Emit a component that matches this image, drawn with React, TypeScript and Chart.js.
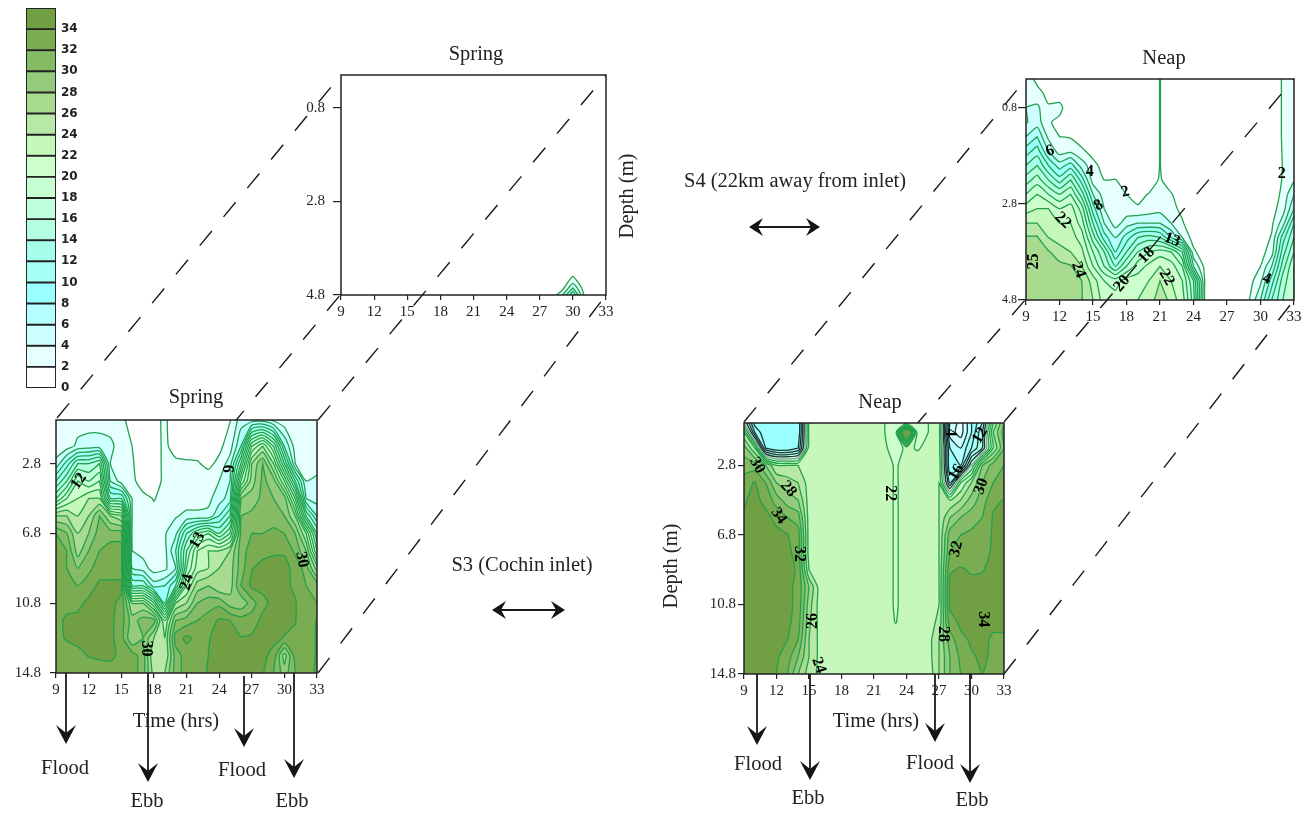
import React, { useEffect, useRef } from "react";
import { Chart, registerables } from "chart.js";

Chart.register(...registerables);

const SERIF = "'Liberation Serif', serif";
const hours = [9,10,11,12,13,14,15,16,17,18,19,20,21,22,23,24,25,26,27,28,29,30,31,32,33];
const hourTicks = [9,12,15,18,21,24,27,30,33];
const levels = [0,2,4,6,8,10,12,14,16,18,20,22,24,26,28,30,32,34];
const levelColors = ["#ffffff","#e6ffff","#ccffff","#b3ffff","#99ffff","#a6fff5","#a6ffe8","#b3ffe0","#bfffd9","#c6ffd2","#ccffcc","#c6f8bc","#b8e8a6","#a8da90","#94ca7c","#85bb64","#7aad52","#70a043"];

const depthsS3Spring = [0.3,1.8,2.8,3.8,4.8,5.8,6.8,7.8,8.8,9.8,10.8,11.8,12.8,13.8,14.8];
const salinityS3Spring = [
[3,3,3,3,3,3,2.6,1,1,1.5,2.3,1,1,1,1,1,1.9,5,5,5,3.5,2.5,2.5,2.5,2.5],
[3,3,4.5,5,5,4.5,3,2,1,1,2.5,1,1,1,1,1.5,3,8,20,24,18,8,3,2.5,2.5],
[4.5,9,14,14,16,4,3,2.2,1,1,2.5,2.5,2.3,2.2,1.5,2.5,5,14,26,30,24,14,4,3,3],
[10,14,20,18,20,6,3,2.5,1,1,2.5,3,3,3,3,4,6,20,27,30.5,29,22,12,4,4.5],
[16,20,22,24,24,12,12,4,2.6,1.9,2.6,3,3,3,3.5,5,7,28,29,30.5,30,29,20,6,5],
[26,26,24,26,30,26,24,4,3,2.5,3,3.8,4.5,4.5,4.5,8,12,30,30.5,31,31,30,26,14,8],
[32,30,26,28,31,31,31,3.5,3,3,3.8,5.5,12,16,18,14,18,30.5,32,32,32.5,32,30,24,14],
[33,32,27,30,32,33,33,4,3.2,3,3.3,8,16,22,24,24,26,31,33,33.5,33.8,33.8,31.5,28,18],
[33,32,30,31.5,33,33,33,6,5,3,3.5,6,18,23,24,26,27,31,33.9,34.5,34.5,34.5,33.5,31,25],
[33,33,32,33,34.5,34.5,34.5,12,12,7,8,12,22,27,28,26,27,32,34.5,34.5,34.5,34.5,33.6,32,31],
[33,33.5,33.5,34.5,34.5,34.5,33.5,26,26,20,10,24,26,30,31,31.5,29,28.5,31,33.5,34.5,34.5,34.2,32,32],
[33.5,34.3,34.5,34.5,34.5,34.5,33,29,31,31,22,30,31,32,33,34.3,34,33,33,34.5,34.5,34.5,34.1,32.5,34.2],
[33.5,34.2,34.5,34.5,34.5,34.5,33,28,30,26,24,33,34.5,33.5,33.9,34.5,34.5,34.1,34.3,34.5,34.5,33.9,33.6,33,34.2],
[32,33,33.5,34.1,34.5,34.5,33.5,33,31,24,24,31,33,33,34,34.5,34.5,34.5,34.5,34.5,33.4,27,33,33,34.2],
[33,33,33,33,32.5,33,33,33,31,25,26,31,33,33,34.2,34.5,34.5,34.5,34.5,34.2,32,29,32,33.5,34.2],
];

const depthsS3Neap = [0.36,0.9,1.8,2.8,3.8,4.8,5.8,6.8,7.8,8.8,9.8,10.8,11.8,12.8,13.8,14.8];
const salinityS3Neap = [
[18,9,8,8,8,8,22.5,23,23,23,23,23,23,22,21,21,21,22,23,6,3,8,12,24,30],
[24,12,8,8,8,8,22.5,23,23,23,23,23,23,22,21,44,21,22,23,5,3,8,14,26,31],
[29,24,10,8,8,10,23,23,23,23,23,23,23,22.3,21,22.5,21.8,22.5,23,8,6,10,14,24,30],
[31,31,28,24,24,24,23,23,23,23,23,23,23,23,21.7,23,23,23,23.5,8,8,18,28,31,32],
[33,34.2,32,28,27,26,23,23,23,23,23,23,23,23,21.7,23,23,23,24,12,22,26,30,32,33],
[33.8,34.5,33.5,31,29,28,23,23,23,23,23,23,23,23,21.7,23,23,23,24,24,26,29,31,33.6,34.1],
[34.2,34.5,34.5,33.5,32,31,23,23,23,23,23,23,23,23,21.7,23,23,23,24,28,30,31,32,34.2,34.5],
[34.5,34.5,34.5,34.5,34.1,33,23,23,23,23,23,23,23,23,21.7,23,23,23,24,31,32,32.5,33,34.2,34.5],
[34.5,34.5,34.5,34.5,34.5,33.2,23,23,23,23,23,23,23,23,21.7,23,23,23,24,32,32.8,33,33.5,34.2,34.5],
[34.5,34.5,34.5,34.5,34.5,33.8,24,23,23,23,23,23,23,23,21.7,23,23,23,24,33.8,34.2,33.8,33.9,34.5,34.5],
[34.5,34.5,34.5,34.5,34.5,33.5,28,23,23,23,23,23,23,23,21.7,23,23,23,24,34.5,34.5,34.5,34.5,34.5,34.5],
[34.5,34.5,34.5,34.5,34.5,33.5,27,23,23,23,23,23,23,23,21.7,23,23,23,24,34.5,34.5,34.5,34.5,34.5,34.5],
[34.5,34.5,34.5,34.5,34.5,33,26.5,23.2,23,23,23,23,23,23,21.9,23,23,23,24.5,33,34.5,34.5,34.5,34.5,34.5],
[34.5,34.5,34.5,34.5,34.1,32,26,23.4,23,23,23,23,23,23,23,23,23,23,26,31,33.5,34.3,34.5,33.7,33.7],
[34.5,34.5,34.5,34.3,33,30,26,23.4,23,23,23,23,23,23,23,23,23,23,26,30,32.5,33.8,34.3,33.7,33.7],
[34.5,34.5,34.5,34,32,28,25,23.5,23,23,23,23,23,23,23,23,23.1,22.5,26,30,32,33.5,34,33.7,33.7],
];

const depthsS4Neap = [0.2,0.5,0.8,1.1,1.4,1.7,2.0,2.3,2.6,2.9,3.2,3.5,3.8,4.1,4.4,4.8];
const salinityS4Neap = [
[3,1.5,0,0,0,0,0,0,0,0,0,0,2.1,0,0,0,0,0,0,0,0,0,0,2.3,3],
[3,2.6,1.5,1,0,0,0,0,0,0,0,0,2.1,0,0,0,0,0,0,0,0,0,0,2.3,3],
[4,4.5,2.2,2.6,0.5,0,0,0,0,0,0,0,2.1,0,0,0,0,0,0,0,0,0,0,2.3,3],
[3.8,5,2.2,1.5,0,0,0,0,0,0,0,0,2.1,0,0,0,0,0,0,0,0,0,0,2.3,3],
[6,8,3.5,2,1.8,0.5,0,0,0,0,0,0,2.1,0,0,0,0,0,0,0,0,0,0,2.3,3],
[9,11,6,3,3.5,2.5,1,0,0,0,0,0,2.1,0,0,0,0,0,0,0,0,0,0,2.2,3],
[12,14,10,7,9,5,2.8,1,0,0,0,0,2.1,0,0,0,0,0,0,0,0,0,0,2.1,3],
[15,17,14,11,14,9,3,2,2.1,1,0.5,0.5,2.3,0.5,0,0,0,0,0,0,0,0,0.3,2.2,3.8],
[18,20,18,16,18,13,6,3,2.4,2,1.5,2.1,3,2.2,0.5,0,0,0,0,0,0,0,0.8,2.5,6],
[21,22,22,20,21,17,9,4,2.5,2.8,2.2,2.8,3.2,2.6,1.5,0,0,0,0,0,0,0,1.2,3,8],
[24,24,23,22,22,19,12,6,3,5,6,6,6,4,2.2,0.5,0,0,0,0,0,0.3,1.6,5,12],
[26.2,26.2,24,23,23,21,15,9,6,9,12,13,12,8,4,1,0,0,0,0,0,0.8,2.2,9,14],
[26.5,26.5,26.2,25,24,22.5,18,14,8,12,16,18,19,18,14,2.5,0.5,0,0,0,0.3,1.2,3,11,16],
[26.5,26.5,26.5,26.5,26.2,24,20,16,12,16,19,20.5,22,21,18,6,1.5,0,0,0,0.6,2,6,13,18],
[26.5,26.5,26.5,26.5,26.2,26,23,20,19,21,21,22,24,22,20,14,2,0,0,0,1.2,3.5,9,15,18],
[26.5,26.5,26.5,26.5,26.5,26.1,24,21,21,21.5,22,22,26,23,21,15,1.8,0,0,0,2,6,12,16,18],
];

const depthsS4Spring = [0.1,3.9,4.35,4.5,4.65,4.8];
const salinityS4Spring = [
[0,0,0,0,0,0,0,0,0,0,0,0,0,0,0,0,0,0,0,0,0,0,0,0,0],
[0,0,0,0,0,0,0,0,0,0,0,0,0,0,0,0,0,0,0,0,0,0,0,0,0],
[0,0,0,0,0,0,0,0,0,0,0,0,0,0,0,0,0,0,0,0,0,1.5,0,0,0],
[0,0,0,0,0,0,0,0,0,0,0,0,0,0,0,0,0,0,0,0,0.3,3,0.3,0,0],
[0,0,0,0,0,0,0,0,0,0,0,0,0,0,0,0,0,0,0,0,1,6,1,0,0],
[0,0,0,0,0,0,0,0,0,0,0,0,0,0,0,0,0,0,0,0.5,3.5,10,2,0,0],
];

// contour labels: [text, hour, depth, rotation in degrees]
const labelsS3Spring: any[] = [["12",11.1,3.8,-55],["6",24.7,3.1,90],["13",22,7.2,-60],["24",21.05,9.6,-75],["30",17.3,13.4,90],["30",31.6,8.3,80]];
const labelsS3Neap: any[] = [["30",10.2,2.8,60],["28",13.1,4.15,50],["34",12.2,5.7,55],["32",14.1,7.9,90],["26",15.4,11.75,-90],["24",15.9,14.3,70],["22",22.5,4.4,90],["4",28,0.9,90],["12",30.8,1.07,-60],["16",28.6,3.2,-60],["30",30.9,4,-70],["32",28.6,7.6,-75],["34",31.1,11.65,90],["28",27.4,12.5,90]];
const labelsS4Neap: any[] = [["6",11.15,1.7,-20],["4",14.7,2.14,0],["2",17.9,2.55,-15],["8",15.5,2.83,-30],["22",12.3,3.14,45],["24",13.7,4.17,70],["25",9.7,4,-90],["20",17.6,4.46,-50],["18",19.8,3.87,-45],["13",22.1,3.55,20],["22",21.6,4.33,60],["4",30.55,4.36,20],["2",31.9,2.17,0]];

// page annotations, in page units
const guideLines = [[[57,418],[341,75]],[[318,420],[606,75]],[[231.7,425.5],[341,294]],[[318,673],[606,295]],[[744,422],[1026,79]],[[1004,422],[1294,79]],[[913.9,427.3],[1026,299]],[[1004,674],[1294,300]]];
const downArrows = [[66,673,744],[148,673,782],[244,676,747],[294,673,778],[757,674,745],[810,674,780],[935,674,742],[970,674,783]];
const twoWayArrows = [[749,820,227],[492,565,610]];
const pageTexts: any[] = [
  ["Spring",476,55,0],["Neap",1164,59,0],["Spring",196,398,0],["Neap",880,403,0],
  ["Flood",65,769,0],["Ebb",147,802,0],["Flood",242,771,0],["Ebb",292,802,0],
  ["Flood",758,765,0],["Ebb",808,799,0],["Flood",930,764,0],["Ebb",972,801,0],
  ["Time (hrs)",176,722,0],["Time (hrs)",876,722,0],
  ["Depth (m)",672,566,-90],["Depth (m)",628,196,-90],
  ["S4 (22km away from inlet)",795,182,0],["S3 (Cochin inlet)",522,566,0],
];

function contourOf(grid: number[][], xs: number[], ys: number[], L: number) {
  const fill: any[] = [];
  const segs: any[][] = [];
  for (let j = 0; j < ys.length - 1; j++) {
    for (let i = 0; i < xs.length - 1; i++) {
      const c = [
        { x: xs[i], y: ys[j], v: grid[j][i] },
        { x: xs[i + 1], y: ys[j], v: grid[j][i + 1] },
        { x: xs[i + 1], y: ys[j + 1], v: grid[j + 1][i + 1] },
        { x: xs[i], y: ys[j + 1], v: grid[j + 1][i] },
      ];
      const poly: any[] = [];
      const cross: any[] = [];
      for (let k = 0; k < 4; k++) {
        const a = c[k], b = c[(k + 1) % 4];
        if (a.v >= L) poly.push({ x: a.x, y: a.y });
        if ((a.v >= L) !== (b.v >= L)) {
          const t = (L - a.v) / (b.v - a.v);
          const p = { x: a.x + (b.x - a.x) * t, y: a.y + (b.y - a.y) * t };
          poly.push(p);
          cross.push(p);
        }
      }
      if (poly.length) { poly.forEach((p) => fill.push(p)); fill.push({ x: null, y: null }); }
      if (cross.length === 2) segs.push([cross[0], cross[1]]);
      if (cross.length === 4) {
        const centreHigh = (c[0].v + c[1].v + c[2].v + c[3].v) / 4 >= L;
        if ((c[0].v >= L) === centreHigh) { segs.push([cross[0], cross[1]], [cross[2], cross[3]]); }
        else { segs.push([cross[3], cross[0]], [cross[1], cross[2]]); }
      }
    }
  }
  // join the pieces into longer lines
  const key = (p: any) => p.x.toFixed(4) + "," + p.y.toFixed(4);
  const ends = new Map<string, number[]>();
  segs.forEach((s, n) => s.forEach((p) => { const k = key(p); ends.set(k, [...(ends.get(k) || []), n]); }));
  const used = segs.map(() => false);
  const next = (p: any) => (ends.get(key(p)) || []).find((n) => !used[n]);
  const line: any[] = [];
  segs.forEach((s, n) => {
    if (used[n]) return;
    used[n] = true;
    const run = [s[0], s[1]];
    for (let m = next(run[run.length - 1]); m !== undefined; m = next(run[run.length - 1])) {
      used[m] = true;
      run.push(key(segs[m][0]) === key(run[run.length - 1]) ? segs[m][1] : segs[m][0]);
    }
    for (let m = next(run[0]); m !== undefined; m = next(run[0])) {
      used[m] = true;
      run.unshift(key(segs[m][0]) === key(run[0]) ? segs[m][1] : segs[m][0]);
    }
    run.forEach((p) => line.push(p));
    line.push({ x: null, y: null });
  });
  return { fill, line };
}

const regionFill = {
  id: "regionFill",
  beforeDatasetDraw(chart: any, args: any) {
    const color = chart.data.datasets[args.index].regionColor;
    if (!color) return;
    const { ctx, chartArea: a } = chart;
    ctx.save();
    ctx.beginPath();
    ctx.rect(a.left, a.top, a.right - a.left, a.bottom - a.top);
    ctx.clip();
    ctx.beginPath();
    args.meta.dataset.path(ctx);
    ctx.fillStyle = color;
    ctx.fill();
    ctx.restore();
  },
};

const panelDecor = {
  id: "panelDecor",
  afterDatasetsDraw(chart: any, _a: any, opts: any) {
    const { ctx, chartArea: a, scales } = chart;
    ctx.save();
    ctx.fillStyle = "#000";
    ctx.font = "bold 16px " + SERIF;
    ctx.textAlign = "center";
    ctx.textBaseline = "middle";
    (opts.labels || []).forEach(([t, h, d, r]: any) => {
      ctx.save();
      ctx.translate(scales.x.getPixelForValue(h), scales.y.getPixelForValue(d));
      ctx.rotate((r * Math.PI) / 180);
      ctx.fillText(t, 0, 0);
      ctx.restore();
    });
    ctx.strokeStyle = "#222";
    ctx.lineWidth = 1.5;
    ctx.strokeRect(a.left, a.top, a.right - a.left, a.bottom - a.top);
    ctx.restore();
  },
};

const pageText = {
  id: "pageText",
  afterDatasetsDraw(chart: any, _a: any, opts: any) {
    const { ctx, scales } = chart;
    ctx.save();
    ctx.fillStyle = "#222";
    ctx.font = "20.5px " + SERIF;
    ctx.textAlign = "center";
    ctx.textBaseline = "middle";
    (opts.items || []).forEach(([t, x, y, r]: any) => {
      ctx.save();
      ctx.translate(scales.x.getPixelForValue(x), scales.y.getPixelForValue(y));
      ctx.rotate((r * Math.PI) / 180);
      ctx.fillText(t, 0, 0);
      ctx.restore();
    });
    ctx.restore();
  },
};

const noScalePadding = (s: any) => { s.paddingTop = 0; s.paddingBottom = 0; s.paddingLeft = 0; s.paddingRight = 0; };

const panels: any[] = [
  { l: 341, t: 75, r: 606, b: 295, z: 1, depths: depthsS4Spring, grid: salinityS4Spring, ticks: [0.8,2.8,4.8], labels: [], tickSize: 15, tickLen: 8, tickPad: 8 },
  { l: 1026, t: 79, r: 1294, b: 300, z: 1, depths: depthsS4Neap, grid: salinityS4Neap, ticks: [0.8,2.8,4.8], labels: labelsS4Neap, tickSize: 12, tickLen: 8, tickPad: 1 },
  { l: 56, t: 419.5, r: 317, b: 673, z: 3, depths: depthsS3Spring, grid: salinityS3Spring, ticks: [2.8,6.8,10.8,14.8], labels: labelsS3Spring, tickSize: 15, tickLen: 6, tickPad: 9 },
  { l: 744, t: 422.5, r: 1004, b: 674, z: 3, depths: depthsS3Neap, grid: salinityS3Neap, ticks: [2.8,6.8,10.8,14.8], labels: labelsS3Neap, tickSize: 15, tickLen: 6, tickPad: 2, darkPockets: true },
];
const AXIS_W = 50, TITLE_H = 12, BOTTOM_H = 30, RIGHT_W = 14;

function panelChart(canvas: HTMLCanvasElement, p: any) {
  const fills: any[] = [];
  const lines: any[] = [];
  levels.forEach((L, n) => {
    const { fill, line } = contourOf(p.grid, hours, p.depths, L);
    if (fill.length) fills.push({ label: "band " + L, data: fill, regionColor: levelColors[n], borderWidth: 0, pointRadius: 0, tension: 0.0001, fill: false, spanGaps: false });
    if (L > 0 && line.length) {
      const color = p.darkPockets && L <= 16 ? "#1d3636" : p.darkPockets && L === 18 ? "#8b9c92" : "#23a04c";
      lines.push({ label: "contour " + L, data: line, borderColor: color, borderWidth: 1.3, pointRadius: 0, tension: 0.2, fill: false, spanGaps: false });
    }
  });
  const datasets = [...fills, ...lines].map((d, i, all) => ({ ...d, order: all.length - i }));
  return new Chart(canvas, {
    type: "line",
    data: { datasets },
    plugins: [regionFill, panelDecor],
    options: {
      animation: false, responsive: false, devicePixelRatio: 1,
      layout: { autoPadding: false, padding: { right: RIGHT_W, top: TITLE_H } },
      plugins: {
        legend: { display: false }, tooltip: { enabled: false },
        panelDecor: { labels: p.labels },
      },
      scales: {
        x: {
          type: "linear", min: 9, max: 33,
          afterBuildTicks: (s: any) => { s.ticks = hourTicks.map((value) => ({ value })); },
          afterFit: (s: any) => { s.height = BOTTOM_H; noScalePadding(s); },
          grid: { drawOnChartArea: false, tickLength: 5, color: "#222", lineWidth: 1.2 },
          border: { display: false },
          ticks: { color: "#222", padding: 3, maxRotation: 0, font: { family: SERIF, size: 15 } },
        },
        y: {
          type: "linear", reverse: true, min: p.depths[0], max: p.depths[p.depths.length - 1],
          afterBuildTicks: (s: any) => { s.ticks = p.ticks.map((value: number) => ({ value })); },
          afterFit: (s: any) => { s.width = AXIS_W; noScalePadding(s); },
          grid: { drawOnChartArea: false, tickLength: p.tickLen, color: "#222", lineWidth: 1.2 },
          border: { display: false },
          ticks: { color: "#222", padding: p.tickPad, font: { family: SERIF, size: p.tickSize }, callback: (v: any) => Number(v).toFixed(1) },
        },
      },
    } as any,
  });
}

function colorbarChart(canvas: HTMLCanvasElement) {
  return new Chart(canvas, {
    type: "bar",
    data: {
      labels: ["salinity"],
      datasets: levels.map((L, n) => ({ label: String(L), data: [2], backgroundColor: levelColors[n], borderColor: "#222", borderWidth: 1.3, borderSkipped: false, categoryPercentage: 1, barPercentage: 1 })),
    },
    options: {
      animation: false, responsive: false, devicePixelRatio: 1,
      layout: { autoPadding: false, padding: { left: 26, top: 8, bottom: 12 } },
      plugins: { legend: { display: false }, tooltip: { enabled: false } },
      scales: {
        x: { stacked: true, display: false },
        y: {
          stacked: true, min: 0, max: 36, position: "right",
          afterFit: (s: any) => { s.width = 44; noScalePadding(s); },
          grid: { display: false, drawTicks: false }, border: { display: false },
          ticks: { stepSize: 2, autoSkip: false, padding: 5, color: "#222", font: { family: "'DejaVu Sans', sans-serif", size: 12, weight: "bold" }, callback: (v: any) => (v === 36 ? "" : v) },
        },
      },
    } as any,
  });
}

function overlayChart(canvas: HTMLCanvasElement) {
  const line = (pts: number[][], width: number, dash?: number[]) => ({
    data: pts.map(([x, y]) => ({ x, y })), borderColor: "#1a1a1a", borderWidth: width, pointRadius: 0, fill: false, tension: 0, borderDash: dash || [],
  });
  const shape = (pts: number[][]) => ({ ...line(pts, 0), regionColor: "#141414" });
  const headDown = (x: number, y: number) => shape([[x - 10, y - 19], [x, y], [x + 10, y - 19], [x, y - 11]]);
  const headSide = (x: number, y: number, d: number) => shape([[x - 14 * d, y - 9], [x, y], [x - 14 * d, y + 9], [x - 9 * d, y]]);
  const datasets = [
    ...guideLines.map((g) => line(g, 1.4, [19, 18.3])),
    ...downArrows.map(([x, a, b]) => line([[x, a], [x, b - 6]], 1.8)),
    ...downArrows.map(([x, , b]) => headDown(x, b)),
    ...twoWayArrows.map(([a, b, y]) => line([[a + 5, y], [b - 5, y]], 1.8)),
    ...twoWayArrows.map(([a, , y]) => headSide(a, y, -1)),
    ...twoWayArrows.map(([, b, y]) => headSide(b, y, 1)),
  ];
  return new Chart(canvas, {
    type: "line",
    data: { datasets },
    plugins: [regionFill, pageText],
    options: {
      animation: false, responsive: false, devicePixelRatio: 1,
      layout: { autoPadding: false, padding: 0 },
      plugins: { legend: { display: false }, tooltip: { enabled: false }, pageText: { items: pageTexts } },
      scales: {
        x: { type: "linear", min: 0, max: 1307, display: false },
        y: { type: "linear", min: 0, max: 816, reverse: true, display: false },
      },
    } as any,
  });
}

const abs = (l: number, t: number, z: number): React.CSSProperties => ({ position: "absolute", left: l, top: t, zIndex: z, filter: "blur(0.6px)" });

export default function App() {
  const panelRefs = useRef<(HTMLCanvasElement | null)[]>([]);
  const barRef = useRef<HTMLCanvasElement>(null);
  const overlayRef = useRef<HTMLCanvasElement>(null);
  useEffect(() => {
    document.body.style.margin = "0";
    const charts = [
      ...panels.map((p, i) => panelChart(panelRefs.current[i]!, p)),
      colorbarChart(barRef.current!),
      overlayChart(overlayRef.current!),
    ];
    return () => charts.forEach((c) => c.destroy());
  }, []);
  return (
    <div style={{ position: "relative", width: 1307, height: 816, background: "#fff", overflow: "hidden" }}>
      {panels.map((p, i) => (
        <canvas
          key={i}
          ref={(el) => { panelRefs.current[i] = el; }}
          width={AXIS_W + (p.r - p.l) + RIGHT_W}
          height={TITLE_H + (p.b - p.t) + BOTTOM_H}
          style={abs(p.l - AXIS_W, p.t - TITLE_H, p.z)}
        />
      ))}
      <canvas ref={barRef} width={100} height={400} style={abs(0, 0, 1)} />
      <canvas ref={overlayRef} width={1307} height={816} style={{ ...abs(0, 0, 2), pointerEvents: "none" }} />
    </div>
  );
}
